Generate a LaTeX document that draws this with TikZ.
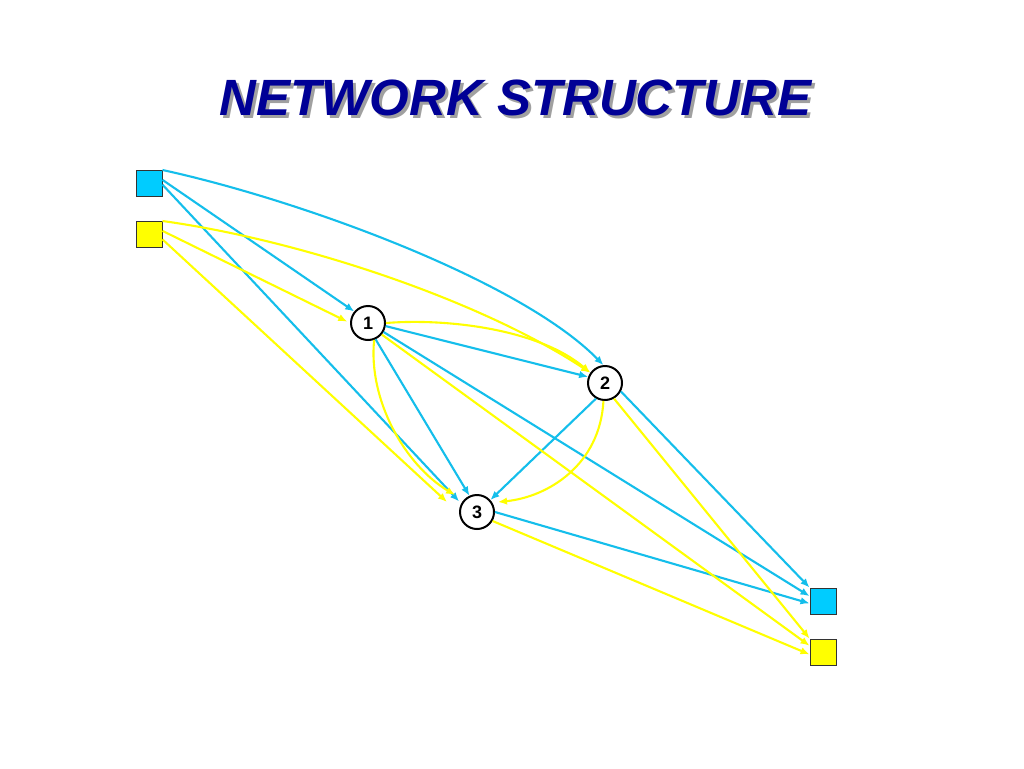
\documentclass[tikz,border=0pt]{standalone}
\usepackage{fontspec}
\setmainfont{Liberation Sans}
\usetikzlibrary{arrows.meta,calc}
\definecolor{netblue}{RGB}{20,190,235}
\definecolor{netbluefill}{RGB}{0,204,255}
\definecolor{netyellow}{RGB}{255,255,0}
\definecolor{titleblue}{RGB}{0,0,150}
\definecolor{titleshadow}{RGB}{160,160,160}
\begin{document}
\begin{tikzpicture}[x=1pt,y=-1pt,
  sqnode/.style={draw=black!80,line width=1pt,minimum size=26pt,inner sep=0pt},
  circnode/.style={circle,draw=black,line width=2pt,fill=white,minimum size=34pt,inner sep=0pt,font=\bfseries\fontsize{18}{18}\selectfont},
  flow/.style={line width=2.1pt,-{Latex[length=9pt,width=7.5pt]}},
  bflow/.style={flow,color=netblue},
  yflow/.style={flow,color=netyellow},
  titlefont/.style={font=\bfseries\itshape\fontsize{51}{51}\selectfont}
]
\useasboundingbox (0,0) rectangle (1024,768);
\fill[white] (0,0) rectangle (1024,768);

% title
\node[titlefont,text=titleshadow] (titleshadow) at (518.5,100.5) {NETWORK STRUCTURE};
\node[titlefont,text=titleblue] (title) at (515.5,97.5) {NETWORK STRUCTURE};

% nodes
\node[sqnode,fill=netbluefill] (sb) at (149,183.5) {};
\node[sqnode,fill=netyellow] (sy) at (149,234.5) {};
\node[circnode] (n1) at (368,323) {1};
\node[circnode] (n2) at (605,383) {2};
\node[circnode] (n3) at (477,512) {3};
\node[sqnode,fill=netbluefill] (tb) at (823,601) {};
\node[sqnode,fill=netyellow] (ty) at (823,652) {};

% blue flows
\draw[bflow] (sb.north east) .. controls (300,200) and (520,280) .. (n2.95);
\draw[bflow] (sb.15) -- (n1.140);
\draw[bflow,shorten >=3pt] (sb.-5) -- (n3.152);
\draw[bflow] (n1.-10) -- (n2.160);
\draw[bflow] (n1.-65) -- (n3.115);
\draw[bflow] (n1.-30) -- (tb.160);
\draw[bflow] (n2.-120) -- (n3.42);
\draw[bflow] (n2.-28) -- (tb.135);
\draw[bflow] (n3.0) -- (tb.190);

% yellow flows
\draw[yflow] (sy.north east) .. controls (300,240) and (480,300) .. (n2.145);
\draw[yflow,shorten >=3pt] (sy.15) -- (n1.180);
\draw[yflow] (sy.-20) -- ($(n3)+(-30,-10)$);
\draw[yflow] (n1.east) .. controls (450,318) and (540,330) .. (n2.145);
\draw[yflow] (n1.-70) .. controls (368,400) and (405,465) .. ($(n3)+(-22,-17)$);
\draw[yflow] (n1.-40) -- (ty.155);
\draw[yflow] (n2.-95) .. controls (600,465) and (548,497) .. ($(n3)+(21,-10)$);
\draw[yflow] (n2.-60) -- (ty.135);
\draw[yflow] (n3.-30) -- (ty.190);
\end{tikzpicture}
\end{document}
